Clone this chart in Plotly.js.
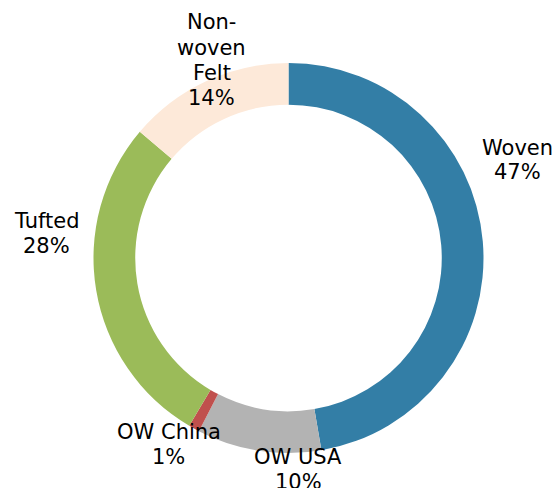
<!DOCTYPE html>
<html>
<head>
<meta charset="utf-8">
<script src="https://cdn.plot.ly/plotly-3.0.1.min.js"></script>
<style>html,body{margin:0;padding:0;background:#fff;}#chart{width:555px;height:488px;}</style>
</head>
<body>
<div id="chart"></div>
<script>
// ---- data ----
const categories = ["Woven", "OW USA", "OW China", "Tufted", "Non-woven Felt"];
const values = [47.3, 10.3, 0.9, 27.7, 13.8];
const percentLabels = ["47%", "10%", "1%", "28%", "14%"];
const labelLines = [["Woven"], ["OW USA"], ["OW China"], ["Tufted"], ["Non-", "woven", "Felt"]];

// ---- style / layout ----
const colors = ["#337EA6", "#B3B3B3", "#C0504D", "#9BBB59", "#FDE9D9"];
const W = 555, H = 488;
const cx = 288.5, cy = 258, R = 195;
// pixel position (centre of first text line) of each slice label
const labelPos = [[517.5, 147.5], [298.5, 457], [168.5, 432], [46.3, 221], [211.5, 22.5]];
const lineStep = 25;
const fontSize = 21;

const trace = {
  type: "pie",
  labels: categories,
  values: values,
  hole: 0.786,
  sort: false,
  direction: "clockwise",
  rotation: 0,
  marker: {colors: colors, line: {width: 0}},
  textinfo: "none",
  showlegend: false,
  hoverinfo: "none",
  domain: {x: [(cx - R) / W, (cx + R) / W], y: [1 - (cy + R) / H, 1 - (cy - R) / H]}
};

const annotations = [];
categories.forEach((c, i) => {
  const lines = labelLines[i].concat([percentLabels[i]]);
  lines.forEach((t, j) => {
    annotations.push({
      xref: "paper", yref: "paper",
      x: labelPos[i][0] / W,
      y: 1 - (labelPos[i][1] + j * lineStep) / H,
      xanchor: "center", yanchor: "middle",
      text: t, showarrow: false,
      font: {family: "DejaVu Sans", size: fontSize, color: "#000"}
    });
  });
});

const layout = {
  width: W, height: H,
  margin: {l: 0, r: 0, t: 0, b: 0},
  paper_bgcolor: "#fff",
  showlegend: false,
  annotations: annotations
};

Plotly.newPlot("chart", [trace], layout, {staticPlot: true, displayModeBar: false});
</script>
</body>
</html>
